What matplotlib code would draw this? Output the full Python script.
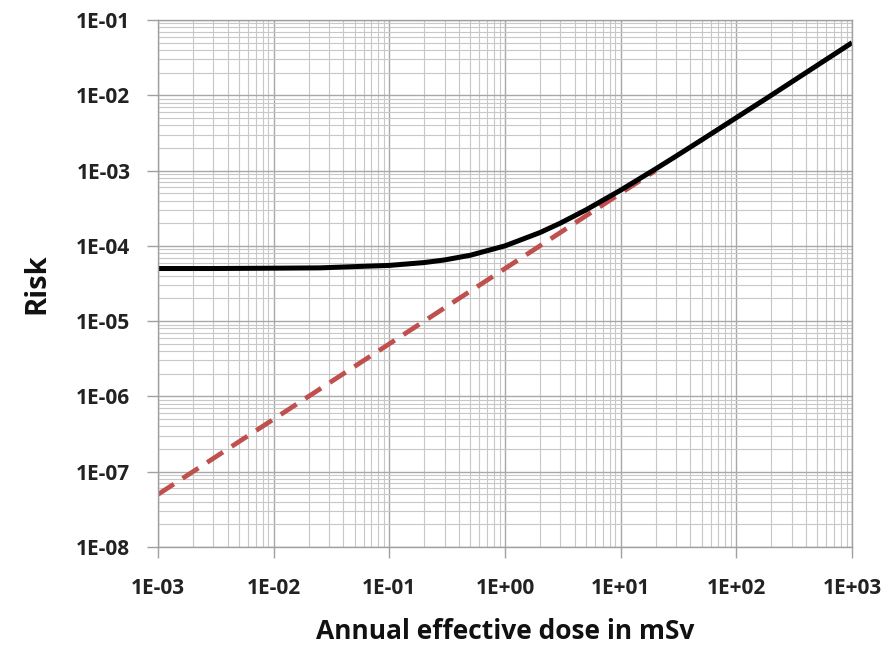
import matplotlib
matplotlib.use("Agg")
import matplotlib.pyplot as plt
from matplotlib.ticker import LogLocator, FixedLocator, NullFormatter

# Data
total_dose = [1e-3, 3e-3, 1e-2, 2.5e-2, 5e-2, 1e-1, 2e-1, 3e-1, 5e-1, 1e0, 2e0, 3e0, 5e0, 1e1, 2e1, 3e1, 5e1, 1e2, 2e2, 3e2, 5e2, 1e3]
total_risk = [5.0e-5, 5.0e-5, 5.05e-5, 5.1e-5, 5.3e-5, 5.5e-5, 6.0e-5, 6.5e-5, 7.5e-5, 1.0e-4, 1.5e-4, 2.0e-4, 3.0e-4, 5.5e-4, 1.05e-3, 1.55e-3, 2.55e-3, 5.05e-3, 1.0e-2, 1.5e-2, 2.5e-2, 5.0e-2]

linear_dose = [1e-3, 1e-2, 1e-1, 1e0, 1e1, 2e1]
linear_risk = [5e-8, 5e-7, 5e-6, 5e-5, 5e-4, 1e-3]

x_ticks = [1e-3, 1e-2, 1e-1, 1e0, 1e1, 1e2, 1e3]
x_labels = ["1E-03", "1E-02", "1E-01", "1E+00", "1E+01", "1E+02", "1E+03"]
y_ticks = [1e-8, 1e-7, 1e-6, 1e-5, 1e-4, 1e-3, 1e-2, 1e-1]
y_labels = ["1E-08", "1E-07", "1E-06", "1E-05", "1E-04", "1E-03", "1E-02", "1E-01"]

plt.rcParams['font.family'] = ['Open Sans', 'DejaVu Sans']

fig = plt.figure(figsize=(8.88, 6.5), dpi=100)
ax = fig.add_axes([0.178, 0.1585, 0.7815, 0.8107])

ax.set_xscale('log')
ax.set_yscale('log')
ax.set_xlim(1e-3, 1e3)
ax.set_ylim(1e-8, 1e-1)

ax.xaxis.set_major_locator(FixedLocator(x_ticks))
ax.yaxis.set_major_locator(FixedLocator(y_ticks))
ax.set_xticklabels(x_labels, fontsize=15, fontweight='bold', color='#222222')
ax.set_yticklabels(y_labels, fontsize=15, fontweight='bold', color='#222222')
ax.xaxis.set_minor_locator(LogLocator(base=10, subs=range(2, 10), numticks=100))
ax.yaxis.set_minor_locator(LogLocator(base=10, subs=range(2, 10), numticks=100))
ax.xaxis.set_minor_formatter(NullFormatter())
ax.yaxis.set_minor_formatter(NullFormatter())

ax.grid(which='major', color='#a8a8a8', linewidth=1.0)
ax.grid(which='minor', color='#c8c8c8', linewidth=0.8)
ax.set_axisbelow(True)
ax.tick_params(which='major', length=8, width=1, color='#a0a0a0')
ax.tick_params(which='minor', length=0)
ax.tick_params(axis='x', pad=14)
ax.tick_params(axis='y', pad=12)
for s in ax.spines.values():
    s.set_color('#a0a0a0')
    s.set_linewidth(1.0)

ax.plot(linear_dose, linear_risk, color='#C0504D', linewidth=3.4, linestyle=(0, (4, 2.2)))
ax.plot(total_dose, total_risk, color='black', linewidth=3.6, solid_capstyle='butt')

ax.set_xlabel("Annual effective dose in mSv", fontsize=19, fontweight='bold', labelpad=14, color='#111111')
ax.set_ylabel("Risk", fontsize=21, fontweight='bold', labelpad=18, color='#111111')

fig.savefig("out.png", dpi=100)
